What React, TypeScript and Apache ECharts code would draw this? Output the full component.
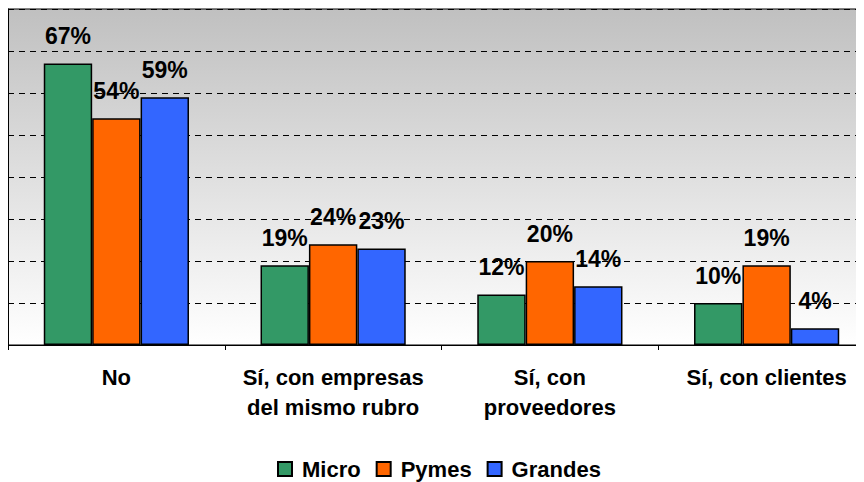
import React, { useEffect, useRef } from "react";
import * as echarts from "echarts";

const categories = ["No", "Sí, con empresas\ndel mismo rubro", "Sí, con\nproveedores", "Sí, con clientes"];
const seriesNames = ["Micro", "Pymes", "Grandes"];
const micro = [67, 19, 12, 10];
const pymes = [54, 24, 20, 19];
const grandes = [59, 23, 14, 4];
const colors = ["#339966", "#FF6600", "#3366FF"];

export default function App() {
  const ref = useRef<HTMLDivElement>(null);
  useEffect(() => {
    if (!ref.current) return;
    const chart = echarts.init(ref.current, null, { renderer: "svg" });
    const font = "Liberation Sans, Arial, sans-serif";
    const values = [micro, pymes, grandes];
    chart.setOption({
      animation: false,
      textStyle: { fontFamily: font },
      grid: {
        left: 8,
        top: 9,
        width: 867,
        height: 336,
        show: true,
        borderColor: "#000",
        borderWidth: 1,
        backgroundColor: new echarts.graphic.LinearGradient(0, 0, 0, 1, [
          { offset: 0, color: "#c0c0c0" },
          { offset: 1, color: "#ffffff" },
        ]),
      },
      legend: {
        data: seriesNames,
        top: 458,
        left: 277,
        padding: 0,
        itemWidth: 14,
        itemHeight: 14,
        itemGap: 15,
        icon: "rect",
        textStyle: { fontFamily: font, fontSize: 22, fontWeight: "bold", color: "#000", padding: [0, 0, 0, 5] },
      },
      xAxis: {
        type: "category",
        data: categories,
        axisLine: { lineStyle: { color: "#000", width: 1 } },
        axisTick: { show: true, length: 5, lineStyle: { color: "#000" } },
        axisLabel: {
          interval: 0,
          color: "#000",
          fontFamily: font,
          fontSize: 22,
          fontWeight: "bold",
          lineHeight: 30,
          margin: 17,
        },
      },
      yAxis: {
        type: "value",
        min: 0,
        max: 80,
        interval: 10,
        axisLabel: { show: false },
        axisTick: { show: false },
        axisLine: { show: true, lineStyle: { color: "#000" } },
        splitLine: { show: true, lineStyle: { color: "#000", type: [6, 5], width: 1 } },
      },
      series: seriesNames.map((name, i) => ({
        name,
        type: "bar",
        data: values[i],
        barGap: "0%",
        barCategoryGap: "33%",
        itemStyle: { color: colors[i], borderColor: "#000", borderWidth: 1.5 },
        label: {
          show: true,
          position: "top",
          distance: 16,
          formatter: "{c}%",
          color: "#000",
          fontFamily: font,
          fontSize: 23,
          fontWeight: "bold",
        },
      })),
    });
    return () => chart.dispose();
  }, []);
  return (
    <div style={{ width: 864, height: 482, overflow: "hidden", marginTop: -8, marginLeft: -8 }}>
      <div ref={ref} style={{ width: 880, height: 482 }} />
    </div>
  );
}
